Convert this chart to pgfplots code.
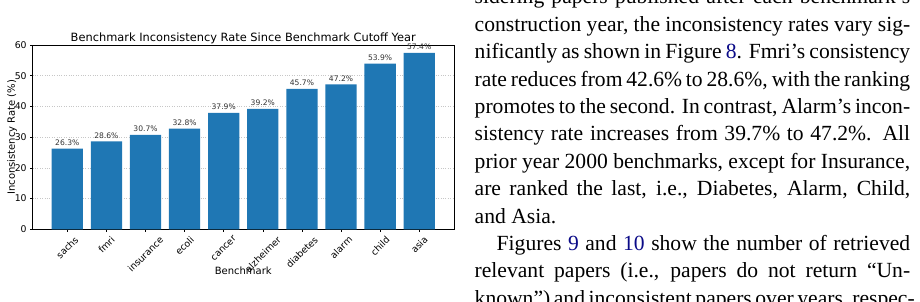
\documentclass[border=0pt]{standalone}
\usepackage{fontspec}
\setmainfont{Liberation Serif}
\newfontfamily\dejavu{DejaVu Sans}
\usepackage{graphicx}
\usepackage{pgfplots}
\usepackage{pgfplotstable}
\pgfplotsset{compat=1.18}
\definecolor{c0}{HTML}{1F77B4}
\definecolor{linkblue}{RGB}{10,10,135}
\pgfplotstableread{
idx val
0 26.3
1 28.6
2 30.7
3 32.8
4 37.9
5 39.2
6 45.7
7 47.2
8 53.9
9 57.4
}\datatable
\newcommand\bodyfont{\fontsize{21.6}{27.4}\selectfont}
\newcommand\tline[2]{\node[anchor=base west, inner sep=0pt, font=\bodyfont] at (474.5, {302-(4+27.4*#1)}) {\makebox[435.5pt][s]{#2}};}
\begin{document}
\begin{tikzpicture}[x=1pt,y=1pt]
\useasboundingbox (0,0) rectangle (920,302);
\clip (0,0) rectangle (920,302);
\begin{axis}[
  at={(32.5pt,72.7pt)}, anchor=south west,
  scale only axis, width=421.5pt, height=184.3pt,
  xmin=-0.89, xmax=9.89, ymin=0, ymax=60,
  ybar, bar width=0.8,
  xtick={0,...,9},
  xticklabels={{\rotatebox{45}{sachs}},{\rotatebox{45}{fmri}},{\rotatebox{45}{insurance}},{\rotatebox{45}{ecoli}},{\rotatebox{45}{cancer}},{\rotatebox{45}{alzheimer}},{\rotatebox{45}{diabetes}},{\rotatebox{45}{alarm}},{\rotatebox{45}{child}},{\rotatebox{45}{asia}}},
  ytick={0,10,...,60},
  tick align=outside, xtick pos=left, ytick pos=left,
  major tick length=2.5pt,
  tick style={black, line width=0.6pt},
  axis line style={black, line width=0.7pt},
  ymajorgrids, grid style={dotted, black!22, line width=0.5pt},
  /pgf/number format/assume math mode=true,
  xticklabel style={font=\dejavu\fontsize{9.3}{11}\selectfont, anchor=north, inner sep=0pt, yshift=-3.6pt},
  yticklabel style={font=\dejavu\fontsize{9.3}{11}\selectfont, anchor=east, inner sep=0pt, xshift=-3.2pt},
  every axis title shift=0pt,
  title={Benchmark Inconsistency Rate Since Benchmark Cutoff Year},
  title style={font=\dejavu\fontsize{11.4}{13}\selectfont, at={(axis description cs:0.5,1)}, anchor=base, inner sep=0pt, yshift=3.5pt},
  xlabel={Benchmark},
  xlabel style={font=\dejavu\fontsize{10}{12}\selectfont, at={(axis description cs:0.5,-0.2263)}, anchor=center, inner sep=0pt},
  ylabel={Inconsistency Rate (\%)},
  ylabel style={font=\dejavu\fontsize{10}{12}\selectfont, at={(axis description cs:-0.0486,0.5)}, anchor=center, inner sep=0pt},
  nodes near coords={\pgfmathprintnumber[fixed,fixed zerofill,precision=1]{\pgfplotspointmeta}\%},
  every node near coord/.append style={font=\dejavu\fontsize{7.6}{9}\selectfont, anchor=base, inner sep=0pt, yshift=3.2pt, text=black!80},
]
\addplot[fill=c0, draw=none] table[x=idx,y=val]{\datatable};
\end{axis}
\tline{0}{sidering papers published after each benchmark’s}
\tline{1}{construction year, the inconsistency rates vary sig-}
\tline{2}{nificantly as shown in Figure \textcolor{linkblue}{8}. Fmri’s consistency}
\tline{3}{rate reduces from 42.6\% to 28.6\%, with the ranking}
\tline{4}{promotes to the second. In contrast, Alarm’s incon-}
\tline{5}{sistency rate increases from 39.7\% to 47.2\%. All}
\tline{6}{prior year 2000 benchmarks, except for Insurance,}
\tline{7}{are ranked the last, i.e., Diabetes, Alarm, Child,}
\node[anchor=base west, inner sep=0pt, font=\bodyfont] at (474.5, {302-(4+27.4*8)}) {and Asia.};
\node[anchor=base west, inner sep=0pt, font=\bodyfont] at (496.5, {302-(4+27.4*9)}) {\makebox[413.5pt][s]{Figures \textcolor{linkblue}{9} and \textcolor{linkblue}{10} show the number of retrieved}};
\tline{10}{relevant papers (i.e., papers do not return “Un-}
\tline{11}{known”) and inconsistent papers over years, respec-}
\end{tikzpicture}
\end{document}
